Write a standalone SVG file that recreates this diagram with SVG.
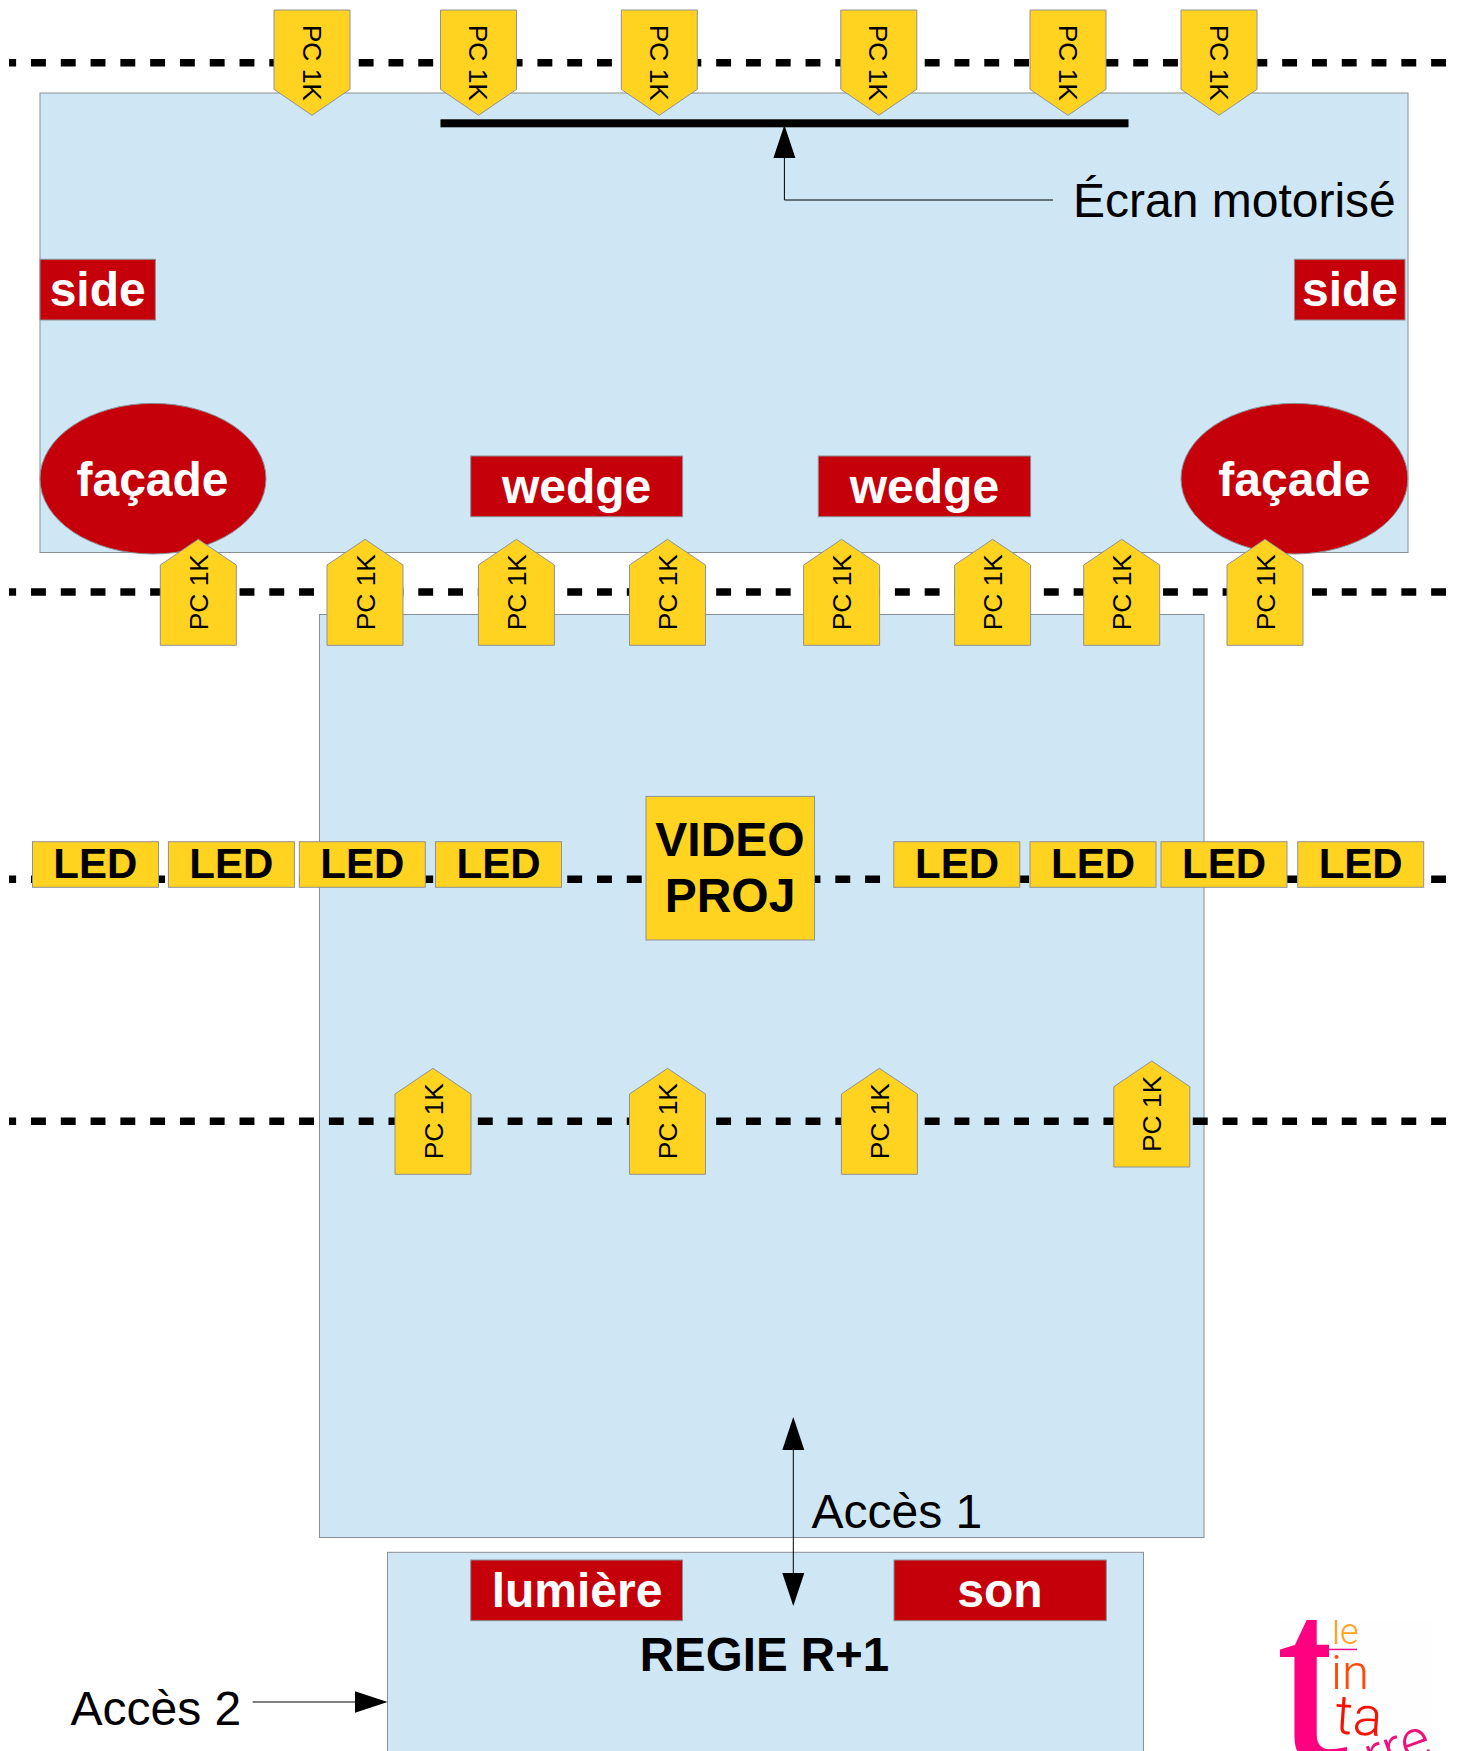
<svg xmlns="http://www.w3.org/2000/svg" width="1458" height="1751" viewBox="0 0 1458 1751">
<style>
text{font-family:"Liberation Sans",Arial,sans-serif}
.panel{fill:#cfe7f5;stroke:#8a8f94;stroke-width:1}
.red{fill:#c5000b;stroke:#8a8f94;stroke-width:1}
.yel{fill:#ffd320;stroke:#8f9296;stroke-width:1}
.rail{fill:none;stroke:#000;stroke-width:7.5;stroke-dasharray:14.9 14.89;stroke-dashoffset:7.79}
.wire{fill:none;stroke:#000;stroke-width:1}
.w{fill:#fff;font-weight:700;font-size:48px;text-anchor:middle}
.b{fill:#000;font-weight:700;text-anchor:middle}
.n{fill:#000;font-size:48px}
.pc{fill:#000;font-size:26.4px}
.lg{font-family:Roboto,"Liberation Sans",sans-serif;font-weight:300}
</style>
<defs>
<polygon id="pcd" class="yel" points="0,0 76,0 76,79.3 38,105.3 0,79.3"/>
<polygon id="pcu" class="yel" points="38,0 76,25.7 76,106 0,106 0,25.7"/>
<marker id="arr" markerUnits="userSpaceOnUse" markerWidth="34" markerHeight="24" viewBox="0 0 34 24" refX="31" refY="12" orient="auto-start-reverse"><polygon points="0,1 33,12 0,23" fill="#000"/></marker>
<clipPath id="logoclip"><rect x="1280" y="1620" width="152" height="131"/></clipPath>
<clipPath id="tclip"><rect x="1270" y="1610" width="59" height="150"/><rect x="1270" y="1738" width="100" height="20"/></clipPath>
</defs>

<g id="panel-scene"><rect class="panel" x="40" y="93" width="1368" height="459.5"/></g>
<g id="panel-salle"><rect class="panel" x="319.5" y="614.5" width="884.5" height="923"/></g>
<g id="panel-regie"><rect class="panel" x="387.5" y="1552.3" width="756" height="210"/></g>

<g id="connectors">
<line class="rail" x1="9" y1="62.7" x2="1446.5" y2="62.7"/>
<line class="rail" x1="9" y1="592" x2="1446.5" y2="592"/>
<line class="rail" x1="9" y1="879.3" x2="1446.5" y2="879.3"/>
<line class="rail" x1="9" y1="1121.3" x2="1446.5" y2="1121.3"/>
<path class="wire" d="M1053 200H784.4V127" marker-end="url(#arr)"/>
<line class="wire" x1="793.3" y1="1419" x2="793.3" y2="1604" marker-start="url(#arr)" marker-end="url(#arr)"/>
<line class="wire" x1="252.6" y1="1702" x2="385.5" y2="1702" marker-end="url(#arr)"/>
</g>

<g id="ecran"><rect x="440.5" y="119.3" width="688" height="8" fill="#000"/></g>
<g id="label-ecran"><text class="n" x="1073" y="216.7">Écran motorisé</text></g>
<g id="label-acces1"><text class="n" x="811.5" y="1528">Accès 1</text></g>
<g id="label-acces2"><text class="n" x="70.5" y="1725">Accès 2</text></g>

<g id="side-l"><rect class="red" x="40" y="259.3" width="115.4" height="60.7"/><text class="w" x="97.7" y="306">side</text></g>
<g id="side-r"><rect class="red" x="1294.4" y="259.3" width="110.6" height="60.7"/><text class="w" x="1350" y="306">side</text></g>
<g id="facade-l"><ellipse class="red" cx="153" cy="478.7" rx="113" ry="75.3"/><text class="w" x="152.5" y="495.7">façade</text></g>
<g id="facade-r"><ellipse class="red" cx="1294.4" cy="478.7" rx="113.4" ry="75.3"/><text class="w" x="1294.4" y="495.7">façade</text></g>
<g id="wedge-l"><rect class="red" x="470.7" y="456" width="211.9" height="60.7"/><text class="w" x="576.6" y="502.5">wedge</text></g>
<g id="wedge-r"><rect class="red" x="818.3" y="456" width="212.3" height="60.7"/><text class="w" x="924.4" y="502.5">wedge</text></g>

<g id="pc-a1" transform="translate(274,10)"><use href="#pcd"/><text class="pc" transform="translate(28.5,14.7) rotate(90)">PC 1K</text></g>
<g id="pc-a2" transform="translate(440.5,10)"><use href="#pcd"/><text class="pc" transform="translate(28.5,14.7) rotate(90)">PC 1K</text></g>
<g id="pc-a3" transform="translate(621.3,10)"><use href="#pcd"/><text class="pc" transform="translate(28.5,14.7) rotate(90)">PC 1K</text></g>
<g id="pc-a4" transform="translate(840.8,10)"><use href="#pcd"/><text class="pc" transform="translate(28.5,14.7) rotate(90)">PC 1K</text></g>
<g id="pc-a5" transform="translate(1030,10)"><use href="#pcd"/><text class="pc" transform="translate(28.5,14.7) rotate(90)">PC 1K</text></g>
<g id="pc-a6" transform="translate(1181,10)"><use href="#pcd"/><text class="pc" transform="translate(28.5,14.7) rotate(90)">PC 1K</text></g>

<g id="pc-b1" transform="translate(160.3,539.3)"><use href="#pcu"/><text class="pc" transform="translate(47.5,91) rotate(-90)">PC 1K</text></g>
<g id="pc-b2" transform="translate(327,539.3)"><use href="#pcu"/><text class="pc" transform="translate(47.5,91) rotate(-90)">PC 1K</text></g>
<g id="pc-b3" transform="translate(478.4,539.3)"><use href="#pcu"/><text class="pc" transform="translate(47.5,91) rotate(-90)">PC 1K</text></g>
<g id="pc-b4" transform="translate(629.5,539.3)"><use href="#pcu"/><text class="pc" transform="translate(47.5,91) rotate(-90)">PC 1K</text></g>
<g id="pc-b5" transform="translate(803.6,539.3)"><use href="#pcu"/><text class="pc" transform="translate(47.5,91) rotate(-90)">PC 1K</text></g>
<g id="pc-b6" transform="translate(954.6,539.3)"><use href="#pcu"/><text class="pc" transform="translate(47.5,91) rotate(-90)">PC 1K</text></g>
<g id="pc-b7" transform="translate(1083.7,539.3)"><use href="#pcu"/><text class="pc" transform="translate(47.5,91) rotate(-90)">PC 1K</text></g>
<g id="pc-b8" transform="translate(1227,539.3)"><use href="#pcu"/><text class="pc" transform="translate(47.5,91) rotate(-90)">PC 1K</text></g>

<g id="pc-c1" transform="translate(395,1068.3)"><use href="#pcu"/><text class="pc" transform="translate(47.5,91) rotate(-90)">PC 1K</text></g>
<g id="pc-c2" transform="translate(629.5,1068.3)"><use href="#pcu"/><text class="pc" transform="translate(47.5,91) rotate(-90)">PC 1K</text></g>
<g id="pc-c3" transform="translate(841.4,1068.3)"><use href="#pcu"/><text class="pc" transform="translate(47.5,91) rotate(-90)">PC 1K</text></g>
<g id="pc-c4" transform="translate(1113.8,1061)"><use href="#pcu"/><text class="pc" transform="translate(47.5,91) rotate(-90)">PC 1K</text></g>

<g id="led-1"><rect class="yel" x="32.5" y="841.7" width="126" height="45.6"/><text class="b" font-size="42" x="95.3" y="878">LED</text></g>
<g id="led-2"><rect class="yel" x="168.4" y="841.7" width="126" height="45.6"/><text class="b" font-size="42" x="231.3" y="878">LED</text></g>
<g id="led-3"><rect class="yel" x="299.3" y="841.7" width="126" height="45.6"/><text class="b" font-size="42" x="362.3" y="878">LED</text></g>
<g id="led-4"><rect class="yel" x="435.5" y="841.7" width="126" height="45.6"/><text class="b" font-size="42" x="498.5" y="878">LED</text></g>
<g id="video-proj"><rect class="yel" x="646" y="796.4" width="168.5" height="143.6"/><text class="b" font-size="48" x="730" y="856">VIDEO</text><text class="b" font-size="48" x="730" y="912">PROJ</text></g>
<g id="led-5"><rect class="yel" x="893.8" y="841.7" width="126" height="45.6"/><text class="b" font-size="42" x="957" y="878">LED</text></g>
<g id="led-6"><rect class="yel" x="1030" y="841.7" width="126" height="45.6"/><text class="b" font-size="42" x="1093" y="878">LED</text></g>
<g id="led-7"><rect class="yel" x="1161" y="841.7" width="126" height="45.6"/><text class="b" font-size="42" x="1224" y="878">LED</text></g>
<g id="led-8"><rect class="yel" x="1297.7" y="841.7" width="126" height="45.6"/><text class="b" font-size="42" x="1360.7" y="878">LED</text></g>

<g id="lumiere"><rect class="red" x="470.7" y="1560" width="211.8" height="60.7"/><text class="w" x="577" y="1606.7">lumière</text></g>
<g id="son"><rect class="red" x="894" y="1560" width="212.3" height="60.7"/><text class="w" x="1000" y="1606.7">son</text></g>
<g id="regie-label"><text class="b" font-size="47.5" x="764.5" y="1670.7">REGIE R+1</text></g>

<g id="logo" clip-path="url(#logoclip)">
<rect x="1280" y="1620" width="152" height="131" fill="#fefefe"/>
<g clip-path="url(#tclip)"><text x="1278" y="1761" font-size="250" fill="#ff0080" stroke="#ff0080" stroke-width="2" style="font-family:'Liberation Serif',serif">t</text></g>
<rect x="1325" y="1648.7" width="32" height="1.5" fill="#e8108a"/>
<text class="lg" x="1332" y="1644" font-size="36" fill="#ffa31a">le</text>
<text class="lg" x="1331" y="1689" font-size="49" fill="#ff4a0a">in</text>
<text class="lg" x="1334" y="1733" font-size="55" fill="#f51206" transform="rotate(4 1334 1733)">ta</text>
<text class="lg" x="1372" y="1776" font-size="56" fill="#f0107a" transform="rotate(-20 1372 1776)">rre</text>
</g>
</svg>
